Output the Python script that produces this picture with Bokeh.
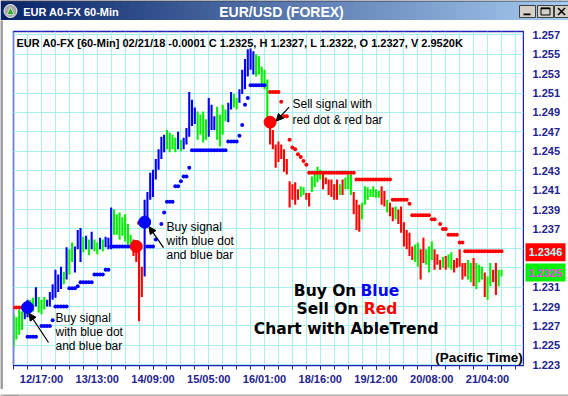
import numpy as np
from bokeh.plotting import figure
from bokeh.layouts import column, row
from bokeh.models import Range1d, FixedTicker, Label, Arrow, NormalHead, ColumnDataSource
from bokeh.embed import file_html
from bokeh.resources import INLINE
from bokeh.core.properties import value

# ---------------- data ----------------
bar_high = [
    1.2282, 1.2279, 1.2287, 1.2285, 1.2292, 1.2297, 1.2297, 1.2299, 1.2310, 1.2300,
    1.2297, 1.2300, 1.2297, 1.2305, 1.2313, 1.2328, 1.2323, 1.2331, 1.2326, 1.2351,
    1.2349, 1.2356, 1.2352, 1.2369, 1.2371, 1.2362, 1.2363, 1.2359, 1.2367, 1.2359,
    1.2356, 1.2361, 1.2359, 1.2362, 1.2361, 1.2392, 1.2390, 1.2385, 1.2387, 1.2382,
    1.2385, 1.2375, 1.2364, 1.2359, 1.2354, 1.2349, 1.2331, 1.2400, 1.2408, 1.2428,
    1.2431, 1.2442, 1.2452, 1.2465, 1.2467, 1.2472, 1.2469, 1.2467, 1.2464, 1.2470,
    1.2462, 1.2464, 1.2474, 1.2511, 1.2503, 1.2495, 1.2491, 1.2488, 1.2491, 1.2483,
    1.2505, 1.2498, 1.2486, 1.2496, 1.2488, 1.2498, 1.2493, 1.2500, 1.2511, 1.2509,
    1.2505, 1.2514, 1.2534, 1.2545, 1.2555, 1.2556, 1.2553, 1.2550, 1.2548, 1.2537,
    1.2534, 1.2524, 1.2485, 1.2472, 1.2457, 1.2460, 1.2457, 1.2452, 1.2442, 1.2419,
    1.2416, 1.2418, 1.2411, 1.2414, 1.2413, 1.2407, 1.2407, 1.2424, 1.2429, 1.2434,
    1.2431, 1.2428, 1.2423, 1.2421, 1.2421, 1.2416, 1.2421, 1.2416, 1.2421, 1.2423,
    1.2426, 1.2426, 1.2408, 1.2400, 1.2395, 1.2397, 1.2414, 1.2413, 1.2411, 1.2414,
    1.2411, 1.2409, 1.2414, 1.2409, 1.2400, 1.2397, 1.2392, 1.2393, 1.2390, 1.2393,
    1.2377, 1.2369, 1.2366, 1.2352, 1.2354, 1.2356, 1.2349, 1.2361, 1.2349, 1.2352,
    1.2357, 1.2349, 1.2344, 1.2338, 1.2341, 1.2342, 1.2344, 1.2346, 1.2338, 1.2340,
    1.2349, 1.2335, 1.2335, 1.2338, 1.2335, 1.2340, 1.2335, 1.2333, 1.2331, 1.2325,
    1.2321, 1.2335, 1.2328, 1.2335, 1.2328, 1.2328,
]
bar_low = [
    1.2249, 1.2256, 1.2261, 1.2266, 1.2277, 1.2279, 1.2284, 1.2285, 1.2290, 1.2284,
    1.2282, 1.2287, 1.2290, 1.2290, 1.2297, 1.2299, 1.2305, 1.2308, 1.2313, 1.2318,
    1.2323, 1.2336, 1.2325, 1.2349, 1.2336, 1.2346, 1.2349, 1.2343, 1.2349, 1.2347,
    1.2344, 1.2349, 1.2347, 1.2351, 1.2349, 1.2349, 1.2364, 1.2364, 1.2359, 1.2363,
    1.2357, 1.2354, 1.2351, 1.2342, 1.2336, 1.2275, 1.2300, 1.2321, 1.2380, 1.2400,
    1.2403, 1.2421, 1.2431, 1.2442, 1.2449, 1.2452, 1.2449, 1.2452, 1.2449, 1.2452,
    1.2450, 1.2452, 1.2457, 1.2465, 1.2476, 1.2478, 1.2462, 1.2467, 1.2459, 1.2462,
    1.2465, 1.2472, 1.2472, 1.2462, 1.2455, 1.2467, 1.2481, 1.2480, 1.2493, 1.2495,
    1.2493, 1.2500, 1.2509, 1.2514, 1.2527, 1.2534, 1.2529, 1.2527, 1.2529, 1.2517,
    1.2514, 1.2483, 1.2457, 1.2452, 1.2433, 1.2439, 1.2442, 1.2429, 1.2426, 1.2392,
    1.2400, 1.2395, 1.2400, 1.2403, 1.2405, 1.2400, 1.2393, 1.2408, 1.2413, 1.2418,
    1.2421, 1.2411, 1.2416, 1.2405, 1.2403, 1.2400, 1.2400, 1.2405, 1.2405, 1.2411,
    1.2411, 1.2405, 1.2385, 1.2369, 1.2367, 1.2380, 1.2395, 1.2400, 1.2403, 1.2403,
    1.2402, 1.2402, 1.2395, 1.2393, 1.2387, 1.2383, 1.2378, 1.2380, 1.2375, 1.2366,
    1.2352, 1.2349, 1.2342, 1.2338, 1.2336, 1.2331, 1.2318, 1.2335, 1.2333, 1.2325,
    1.2338, 1.2328, 1.2333, 1.2328, 1.2330, 1.2328, 1.2330, 1.2328, 1.2325, 1.2330,
    1.2331, 1.2318, 1.2321, 1.2318, 1.2315, 1.2311, 1.2308, 1.2315, 1.2318, 1.2300,
    1.2297, 1.2311, 1.2315, 1.2302, 1.2311, 1.2321,
]
# b = uptrend (blue), g = neutral (green), r = downtrend (red)
bar_trend = list(
    "ggggbbggbg" "ggbbbbbbgb" "ggbbbgbgbg" "gbgbbbgggg" "gggrrrrbbb"
    "bbbbbggggb" "gbbbbbgggg" "bbbggggbbg" "gbbbbbbggg" "ggrrrrrrrr"
    "rrrggrrggg" "grrrrrrgrg" "ggrrrggggg" "ggrrgrrgrr" "rrrrggrrgg"
    "grrrgrggrr" "rrrggrgggr" "ggrrgg"
)
N = None
blue_stop = ([N] * 5 + [1.2259] * 4 + [N] + [1.2270] * 4 + [1.2276] + [1.2290] * 5
             + [1.2309] * 3 + [1.2311] + [1.2315] * 5 + [1.2323] * 4 + [1.2328] * 2
             + [1.2352] * 9 + [N] * 4 + [1.2352] * 3 + [1.2359] + [N] + [1.2375]
             + [1.2387] + [1.2398] * 3 + [1.2414] * 2 + [1.2419] + [1.2424] * 2
             + [1.2433] + [1.2451] * 13 + [1.2460] * 4 + [1.2466] + [1.2477]
             + [1.2498] + [1.2505] + [1.2518] * 6 + [N] * 85)
red_stop = ([1.2289] * 4 + [N] * 41 + [1.2376] * 2 + [N] * 45 + [1.2511] * 4
            + [1.2501] + [1.2486] * 2 + [1.2462, 1.2454, 1.2452, 1.2447, 1.2444, 1.2440, 1.2436]
            + [1.2428] * 17 + [1.2421] * 13 + [1.2400] * 6 + [1.2396] + [1.2384] * 7
            + [1.2380] * 2 + [N] + [1.2375] + [1.2370] * 2 + [1.2364] * 4
            + [1.2356] * 2 + [1.2347] * 14)
buy_signal_bar = [5, 47]
buy_signal_price = [1.2289, 1.2377]
sell_signal_bar = [44, 92]
sell_signal_price = [1.2352, 1.2480]

time_tick_bar = [10, 30, 50, 70, 90, 110, 130, 150, 170]
time_tick_label = ["12/17:00", "13/13:00", "14/09:00", "15/05:00", "16/01:00",
                   "18/16:00", "19/12:00", "20/08:00", "21/04:00"]
price_ticks = [round(1.223 + 0.002 * k, 3) for k in range(18)]
stop_price_label = 1.2346
last_price_label = 1.2325
header = "EUR A0-FX [60-Min] 02/21/18  -0.0001 C 1.2325, H 1.2327, L 1.2322, O 1.2327, V 2.9520K"

# ---------------- styles ----------------
TREND_COLOR = {"b": "#0000ff", "g": "#00f000", "r": "#ff0000"}
FONT = "Liberation Sans"
AXIS_BLUE = "#22228e"
GRID = "#a8f0f0"
WIN_GRAY = "#d4d0c8"
MAIN_H, B_TOP, B_BOT = 369, 11, 24
X_RANGE = Range1d(-0.04, 182.9)
Y_RANGE = Range1d(1.22293, 1.25734)
PX = (Y_RANGE.end - Y_RANGE.start) / (MAIN_H - B_TOP - B_BOT)   # price per pixel


def no_frame_align(f):
    if "frame_align" in f.properties():
        f.frame_align = False
        return True
    return False


def chrome_fig(w, h, x0, x1, y0, y1, bg="white"):
    f = figure(width=w, height=h, x_range=Range1d(x0, x1), y_range=Range1d(y1, y0),
               toolbar_location=None, output_backend="svg", x_axis_location=None,
               y_axis_location=None, min_border=0, outline_line_color=None,
               background_fill_color=bg, border_fill_color=bg)
    f.grid.visible = False
    no_frame_align(f)
    return f

# ---------------- title bar (picture rows 0-20) ----------------
tb = chrome_fig(568, 20, 0, 568, 0, 20)
nseg = 71
edges = np.linspace(0, 568, nseg + 1)
c0 = np.array([10, 36, 106]); c1 = np.array([166, 202, 240])
cols = ["#%02x%02x%02x" % tuple(int(v) for v in (c0 + (c1 - c0) * k / (nseg - 1))) for k in range(nseg)]
tb.quad(left=edges[:-1], right=edges[1:] + 0.5, top=0, bottom=20, fill_color=cols, line_color=None)
tb.segment(x0=[0], y0=[0.5], x1=[568], y1=[0.5], line_color="#404040", line_width=1)
tb.circle(x=[10], y=[10.5], radius=6.5, fill_color="#a8a8a8", line_color="#f0f0f0", line_width=1)
tb.patch(x=[6.5, 10, 13.5], y=[14, 7, 14], fill_color="#22aa22", line_color="#ffffff", line_width=0.6)
tb.text(x=[22.7], y=[11], text=["EUR A0-FX 60-Min"], text_font=value(FONT),
        text_font_style="bold", text_font_size="11px", text_color="white", text_baseline="middle")
tb.text(x=[281], y=[11], text=["EUR/USD (FOREX)"], text_font=value(FONT),
        text_font_style="bold", text_font_size="14px", text_color="white",
        text_baseline="middle", text_align="center")
tb.quad(left=[519, 537, 554], right=[535, 553, 569], top=[5, 5, 5], bottom=[17, 17, 17],
        fill_color=WIN_GRAY, line_color="#404040", line_width=1)
tb.quad(left=[523], right=[530], top=[13], bottom=[14.8], fill_color="black", line_color=None)
tb.quad(left=[540.5], right=[549.5], top=[7.5], bottom=[14.5], fill_color=None, line_color="black", line_width=1)
tb.segment(x0=[540.5], y0=[8], x1=[549.5], y1=[8], line_color="black", line_width=1.5)
tb.segment(x0=[557.5, 557.5], y0=[7.5, 14.5], x1=[564.5, 564.5], y1=[14.5, 7.5], line_color="black", line_width=1.6)

# ---------------- left window edge ----------------
le = chrome_fig(3, MAIN_H, 0, 3, 20, 389, bg="#a0a0a0")

# ---------------- main chart (picture rows 20-389, cols 3-524) ----------------
idx = np.arange(len(bar_high))
src = ColumnDataSource(dict(x=idx, high=bar_high, low=bar_low,
                            color=[TREND_COLOR[c] for c in bar_trend]))

p = figure(width=521, height=MAIN_H, x_range=X_RANGE, y_range=Y_RANGE,
           toolbar_location=None, output_backend="svg",
           x_axis_location="below", y_axis_location=None,
           min_border_left=10, min_border_right=1, min_border_top=B_TOP, min_border_bottom=B_BOT,
           background_fill_color="white", border_fill_color="white",
           outline_line_color="#2020b8", outline_line_width=1.5)
no_frame_align(p)

p.xgrid.ticker = FixedTicker(ticks=list(range(0, 185, 5)))
p.ygrid.ticker = FixedTicker(ticks=price_ticks)
p.grid.grid_line_color = GRID
p.grid.grid_line_width = 1

xa = p.xaxis[0]
xa.ticker = FixedTicker(ticks=time_tick_bar, minor_ticks=list(range(0, 185, 5)))
xa.major_label_overrides = {t: lab for t, lab in zip(time_tick_bar, time_tick_label)}
xa.axis_line_color = None
xa.major_tick_in = 0; xa.minor_tick_in = 0
xa.major_tick_out = 4; xa.minor_tick_out = 4
xa.major_tick_line_color = AXIS_BLUE; xa.minor_tick_line_color = AXIS_BLUE
xa.major_label_standoff = 3
xa.major_label_text_font = FONT
xa.major_label_text_font_style = "bold"
xa.major_label_text_font_size = "11px"
xa.major_label_text_color = AXIS_BLUE

# bars
p.vbar(x="x", top="high", bottom="low", width=0.75, fill_color="color", line_color=None, source=src)

# AbleTrend stop dots
bs = np.array([np.nan if v is None else v for v in blue_stop])
rs = np.array([np.nan if v is None else v for v in red_stop])
p.scatter(x=idx, y=bs, marker="circle", size=4, fill_color="#0000ff", line_color=None)
p.scatter(x=idx, y=rs, marker="circle", size=4, fill_color="#ff0000", line_color=None)
p.scatter(x=buy_signal_bar, y=buy_signal_price, marker="circle", size=12,
          fill_color="#0000ff", line_color="#0000ff")
p.scatter(x=sell_signal_bar, y=sell_signal_price, marker="circle", size=12,
          fill_color="#ff0000", line_color="#ff0000")


def lab(x, y, text, size="12px", style="normal", color="black", align="left", font=FONT):
    p.add_layout(Label(x=x, y=y, text=text, text_font=font, text_font_size=size,
                       text_font_style=style, text_color=color, text_align=align,
                       text_baseline="middle"))

lab(1.04, 1.25613, header, size="11px", style="bold")

for t, yy in zip(["Buy signal", "with blue dot", "and blue bar"], [1.22784, 1.22643, 1.22492]):
    lab(15.03, yy, t)
for t, yy in zip(["Buy signal", "with blue dot", "and blue bar"], [1.23718, 1.23573, 1.23433]):
    lab(54.85, yy, t)
for t, yy in zip(["Sell signal with", "red dot & red bar"], [1.24982, 1.24824]):
    lab(100.05, yy, t)

for xs, ys, xe, ye in [(12.52, 1.22530, 5.6, 1.22830), (53.78, 1.23508, 48.6, 1.23722),
                       (98.83, 1.24954, 94.2, 1.24812)]:
    p.add_layout(Arrow(end=NormalHead(size=7, fill_color="black", line_color="black"),
                       x_start=xs, y_start=ys, x_end=xe, y_end=ye,
                       line_color="black", line_width=1.2))

BIG = "DejaVu Sans"
lab(100.52, 1.23058, "Buy On", size="15.5px", style="bold", font=BIG)
lab(124.45, 1.23058, "Blue", size="15.5px", style="bold", color="#0000ff", font=BIG)
lab(101.49, 1.22870, "Sell On", size="15.5px", style="bold", font=BIG)
lab(125.63, 1.22870, "Red", size="15.5px", style="bold", color="#ff0000", font=BIG)
lab(119.32, 1.22674, "Chart with AbleTrend", size="15.5px", style="bold", align="center", font=BIG)
lab(182.6, 1.22378, "(Pacific Time)", size="13.5px", style="bold", align="right")

# ---------------- price scale (picture cols 524-568), same price-per-pixel ----------------
ps = figure(width=44, height=MAIN_H, x_range=Range1d(524, 568), y_range=Range1d(0, 1),
            toolbar_location=None, output_backend="svg", x_axis_location=None,
            y_axis_location=None, outline_line_color=None,
            background_fill_color="white", border_fill_color="white")
if no_frame_align(ps):
    # full-height frame so that the end labels are not clipped
    ps.min_border = 0
    ps.y_range = Range1d(Y_RANGE.start - B_BOT * PX, Y_RANGE.end + B_TOP * PX)
else:
    ps.min_border_left = 0; ps.min_border_right = 0
    ps.min_border_top = B_TOP; ps.min_border_bottom = B_BOT
    ps.y_range = Y_RANGE
ps.grid.visible = False
ps.text(x=[532] * len(price_ticks), y=price_ticks, text=["%.3f" % t for t in price_ticks],
        text_font=value(FONT), text_font_style="bold", text_font_size="11px",
        text_color=AXIS_BLUE, text_baseline="middle", text_align="left")
half = 9.0 * PX
box_val = [stop_price_label, last_price_label]
ps.quad(left=525, right=565, top=[v + half for v in box_val], bottom=[v - half for v in box_val],
        fill_color=["#ff0000", "#00f000"], line_color=None)
ps.text(x=[545, 545], y=box_val, text=["%.4f" % v for v in box_val],
        text_font=value(FONT), text_font_style="bold", text_font_size="11px",
        text_color=["#a8ffff", "#ff40ff"], text_baseline="middle", text_align="center")

# ---------------- bottom window edge (rows 389-396) ----------------
bt = chrome_fig(568, 7, 0, 568, 389, 396, bg=WIN_GRAY)
bt.segment(x0=[0], y0=[389.5], x1=[568], y1=[389.5], line_color="#9a9a9a", line_width=1)
bt.quad(left=[3], right=[18], top=[390.5], bottom=[396], fill_color=WIN_GRAY, line_color="#808080")

layout = column(tb, row(le, p, ps, spacing=0), bt, spacing=0)
open("out.html", "w").write(file_html(layout, INLINE))
